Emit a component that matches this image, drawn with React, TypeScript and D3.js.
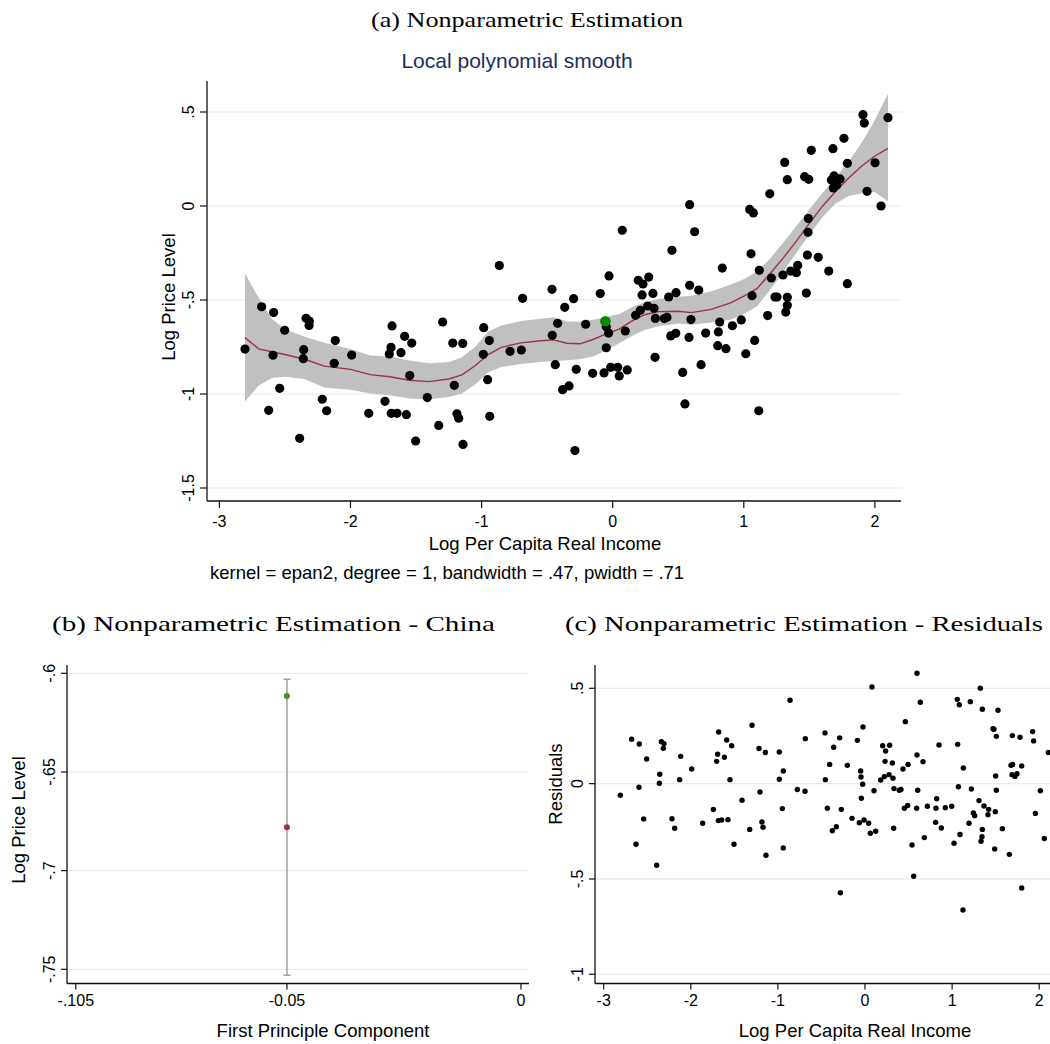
import React from "react";
import * as d3 from "d3";

// ---- Panel (a): log price level vs log per-capita real income ----
const incomeLog = [
  -2.805, -2.678, -2.586, -2.591, -2.502, -2.54, -2.624, -2.388, -2.339, -2.314, -2.316, -2.357, -2.36,
  -2.215, -2.182, -2.116, -2.124, -1.991, -1.861, -1.737, -1.683, -1.691, -1.704, -1.689, -1.645, -1.615,
  -1.587, -1.533, -1.548, -1.574, -1.503, -1.414, -1.327, -1.297, -1.22, -1.144, -1.208, -1.188, -1.175,
  -1.142, -0.984, -0.941, -0.987, -0.954, -0.938, -0.865, -0.783, -0.697, -0.687, -0.463, -0.42, -0.461,
  -0.438, -0.366, -0.298, -0.095, -0.278, -0.382, -0.333, -0.288, -0.206, -0.049, -0.031, -0.049, -0.153,
  -0.066, -0.015, 0.038, 0.05, 0.111, 0.096, 0.175, 0.211, 0.224, 0.267, 0.307, 0.315, 0.325, 0.323,
  0.394, 0.414, 0.427, 0.483, 0.442, 0.481, 0.534, 0.551, 0.587, 0.656, 0.597, 0.582, 0.674, 0.709,
  0.816, 0.806, 0.801, 0.864, 0.913, 0.981, 1.015, 1.083, 1.114, 1.063, 1.182, 1.238, 1.253, 1.332,
  1.332, 1.32, 1.477, 1.79, -0.028, 0.073, 0.195, 0.231, 0.275, 0.452, 0.587, 0.625, 0.836, 1.055,
  1.045, 1.073, 1.198, 1.118, 1.21, 1.299, 1.358, 1.401, 1.411, 1.485, 1.568, 1.648, 1.49, 1.492,
  1.312, 1.332, 1.464, 1.495, 1.515, 1.68, 1.764, 1.79, 1.668, 1.688, 1.734, 1.683, 1.709, 1.909,
  1.919, 2.1, 2.001, 1.94, 2.047,
];
const priceLog = [
  -0.761, -0.536, -0.567, -0.794, -0.661, -0.97, -1.087, -1.236, -0.597, -0.612, -0.635, -0.764, -0.812,
  -1.028, -1.089, -0.716, -0.837, -0.793, -1.103, -1.039, -0.638, -0.752, -0.787, -1.103, -1.103, -0.78,
  -0.693, -0.729, -0.902, -1.11, -1.25, -1.019, -1.167, -0.617, -0.729, -0.731, -0.954, -1.105, -1.129,
  -1.268, -0.647, -0.716, -0.789, -0.924, -1.119, -0.317, -0.773, -0.766, -0.491, -0.443, -0.624, -0.688,
  -0.844, -0.539, -0.493, -0.466, -0.869, -0.977, -0.957, -1.301, -0.629, -0.642, -0.676, -0.754, -0.89,
  -0.888, -0.858, -0.858, -0.904, -0.872, -0.665, -0.581, -0.555, -0.473, -0.532, -0.465, -0.544, -0.598, -0.805,
  -0.599, -0.592, -0.484, -0.461, -0.691, -0.677, -0.885, -1.053, -0.422, -0.447, -0.604, -0.699, -0.844, -0.676,
  -0.617, -0.67, -0.743, -0.759, -0.637, -0.606, -0.786, -0.715, -1.089, -0.477, -0.583, -0.484, -0.484, -0.486,
  -0.528, -0.564, -0.463, -0.413, -0.372, -0.129, -0.395, -0.415, -0.378, -0.236, 0.007, -0.137, -0.33, -0.254,
  -0.018, -0.037, 0.065, -0.342, -0.383, -0.367, -0.346, -0.355, -0.316, -0.261, -0.273, -0.346, -0.14, -0.067,
  0.232, 0.14, 0.156, 0.142, 0.296, 0.305, 0.36, 0.227, 0.138, 0.16, 0.144, 0.096, 0.112, 0.486,
  0.441, 0.47, 0.23, 0.078, 0.0,
];
const chinaIncome = -0.056;
const chinaPrice = -0.613;

// Local polynomial smooth and its 95% band
const smoothGrid = [-2.805, -2.7, -2.6, -2.5, -2.35, -2.2, -2.0, -1.85, -1.7, -1.55, -1.4, -1.25, -1.15, -1.05, -0.95,
  -0.85, -0.7, -0.55, -0.45, -0.35, -0.25, -0.15, -0.05, 0.05, 0.15, 0.25, 0.35, 0.5, 0.6, 0.75, 0.9, 1.0, 1.1,
  1.2, 1.3, 1.4, 1.5, 1.6, 1.7, 1.8, 1.9, 2.0, 2.1];
const smoothFit = [-0.7, -0.76, -0.775, -0.79, -0.815, -0.852, -0.869, -0.897, -0.908, -0.927, -0.934, -0.92, -0.898,
  -0.85, -0.79, -0.752, -0.728, -0.717, -0.712, -0.73, -0.733, -0.71, -0.68, -0.655, -0.61, -0.577, -0.562, -0.56,
  -0.567, -0.55, -0.515, -0.48, -0.44, -0.36, -0.277, -0.188, -0.092, -0.001, 0.077, 0.149, 0.213, 0.266, 0.306];
const smoothLo = [-1.04, -0.955, -0.915, -0.908, -0.92, -0.965, -0.978, -0.998, -1.007, -1.024, -1.028, -1.016, -0.998,
  -0.95, -0.885, -0.857, -0.84, -0.83, -0.826, -0.82, -0.815, -0.8, -0.768, -0.73, -0.69, -0.658, -0.64, -0.625,
  -0.632, -0.62, -0.605, -0.575, -0.534, -0.447, -0.35, -0.25, -0.153, -0.06, 0.013, 0.053, 0.068, 0.075, 0.024];
const smoothHi = [-0.358, -0.49, -0.6, -0.655, -0.695, -0.727, -0.76, -0.795, -0.8, -0.822, -0.837, -0.83, -0.805,
  -0.75, -0.668, -0.636, -0.612, -0.6, -0.592, -0.615, -0.615, -0.605, -0.59, -0.575, -0.537, -0.51, -0.495, -0.483,
  -0.478, -0.455, -0.418, -0.39, -0.35, -0.28, -0.195, -0.108, -0.018, 0.069, 0.152, 0.237, 0.338, 0.458, 0.597];

const incomeTicks = [-3, -2, -1, 0, 1, 2];
const priceTicks = [0.5, 0, -0.5, -1, -1.5];
const priceTickLabels = [".5", "0", "-.5", "-1", "-1.5"];

// ---- Panel (b): China, observed vs fitted ----
const pcTicks = [-0.105, -0.0552, 0];
const pcTickLabels = ["-.105", "-0.05", "0"];
const chinaPC = -0.0552;
const chinaObserved = -0.6115;
const chinaFitted = -0.678;
const chinaBand = [-0.753, -0.603];
const chinaYTicks = [-0.6, -0.65, -0.7, -0.75];
const chinaYTickLabels = ["-.6", "-.65", "-.7", "-.75"];

// ---- Panel (c): residuals ----
const residIncome = [
  -2.809, -2.679, -2.591, -2.595, -2.629, -2.541, -2.507, -2.392, -2.338, -2.308, -2.315, -2.357, -2.361, -2.216,
  -2.185, -2.116, -2.128, -1.99, -1.864, -1.741, -1.68, -1.692, -1.703, -1.684, -1.646, -1.615, -1.588, -1.531,
  -1.55, -1.573, -1.504, -1.412, -1.324, -1.297, -1.217, -1.206, -1.183, -1.171, -1.144, -1.137, -0.984, -0.984,
  -0.938, -0.949, -0.938, -0.861, -0.777, -0.689, -0.685, -0.459, -0.455, -0.432, -0.406, -0.375, -0.36, -0.329,
  -0.291, -0.283, -0.272, -0.203, -0.149, -0.088, -0.065, -0.05, -0.046, -0.042, -0.027, -0.023, -0.011, 0.042,
  0.061, 0.08, 0.103, 0.122, 0.18, 0.203, 0.222, 0.237, 0.23, 0.283, 0.276, 0.314, 0.321, 0.333, 0.329, 0.394,
  0.413, 0.436, 0.452, 0.49, 0.463, 0.494, 0.54, 0.559, 0.593, 0.597, 0.605, 0.597, 0.635, 0.666, 0.681, 0.716,
  0.811, 0.823, 0.815, 0.85, 0.876, 0.922, 0.995, 1.022, 1.06, 1.083, 1.064, 1.072, 1.091, 1.125, 1.129, 1.194,
  1.209, 1.221, 1.244, 1.259, 1.309, 1.324, 1.347, 1.347, 1.343, 1.332, 1.366, 1.412, 1.42, 1.47, 1.481, 1.5,
  1.508, 1.508, 1.496, 1.489, 1.527, 1.577, 1.657, 1.676, 1.692, 1.695, 1.688, 1.722, 1.745, 1.78, 1.799, 1.799,
  1.925, 1.936, 1.956, 2.013, 2.059, 2.105,
];
const residValue = [
  -0.061, 0.233, 0.208, -0.019, -0.318, -0.185, 0.129, -0.428, 0.22, 0.21, 0.185, 0.049, 0.002, -0.184,
  -0.234, 0.143, 0.021, 0.077, -0.208, -0.136, 0.271, 0.154, 0.117, -0.194, -0.191, 0.138, 0.229, 0.199,
  0.021, -0.189, -0.318, -0.087, -0.24, 0.306, 0.184, -0.044, -0.201, -0.229, 0.163, -0.376, 0.166, 0.023,
  0.066, -0.131, -0.337, 0.437, -0.031, -0.04, 0.236, 0.266, 0.021, -0.129, 0.101, -0.247, 0.191, -0.226,
  0.24, -0.572, -0.135, 0.096, -0.182, 0.227, -0.205, 0.066, 0.035, -0.077, -0.003, 0.297, -0.191, -0.208,
  -0.26, 0.507, -0.037, -0.25, 0.019, 0.199, 0.037, 0.171, 0.117, 0.201, 0.047, 0.108, 0.028, -0.026, -0.234, -0.035,
  -0.031, 0.077, -0.129, -0.115, 0.325, 0.101, -0.322, -0.486, -0.129, 0.579, -0.035, 0.15, 0.427, 0.115, -0.283, -0.119,
  -0.203, -0.079, -0.129, 0.203, -0.233, -0.126, -0.119, -0.313, 0.442, 0.414, 0.206, -0.016, -0.267, -0.663, 0.082, -0.208,
  0.43, -0.028, -0.154, -0.168, -0.089, 0.5, 0.39, -0.24, -0.278, -0.302, -0.117, -0.163, -0.135, 0.288, 0.285, 0.04,
  0.248, -0.035, -0.147, -0.343, 0.385, -0.236, -0.371, 0.096, 0.252, 0.1, 0.047, 0.038, 0.052, 0.243, 0.093, -0.547,
  0.273, 0.224, -0.156, -0.037, -0.288, 0.163,
];
const residTicks = [0.5, 0, -0.5, -1];
const residTickLabels = [".5", "0", "-.5", "-1"];

const SANS = "'Liberation Sans', Arial, sans-serif";
const SERIF = "'Liberation Serif', 'Times New Roman', serif";
const GRID = "#e4ecef";
const AXIS = "#111";

// integer tick text with a plain hyphen for negatives
const intLabel = (t: number) => String(t);

export default function App() {
  // panel (a) scales
  const xA = d3.scaleLinear().domain([-3, 2]).range([219.4, 874.9]);
  const yA = d3.scaleLinear().domain([-1.5, 0.5]).range([488, 112]);
  const aLeft = 207, aRight = 901, aTop = 81, aBottom = 501;

  const band = d3
    .area<number>()
    .x((d) => xA(d))
    .y0((_, i) => yA(smoothLo[i]))
    .y1((_, i) => yA(smoothHi[i]));
  const fitLine = d3
    .line<number>()
    .x((d) => xA(d))
    .y((_, i) => yA(smoothFit[i]));

  // panel (b) scales
  const xB = d3.scaleLinear().domain([-0.105, 0]).range([75.8, 521]);
  const yB = d3.scaleLinear().domain([-0.75, -0.6]).range([969.3, 673.3]);
  const bLeft = 67, bRight = 529, bTop = 665, bBottom = 983.5;

  // panel (c) scales
  const xC = d3.scaleLinear().domain([-3, 2]).range([603.7, 1039.2]);
  const yC = d3.scaleLinear().domain([-1, 0.5]).range([974.3, 688.3]);
  const cLeft = 595, cRight = 1050, cTop = 665, cBottom = 983.5;

  return (
    <svg
      width={1050}
      height={1044}
      viewBox="0 0 1050 1044"
      style={{ position: "absolute", left: 0, top: 0, background: "#fff" }}
    >
      <rect width={1050} height={1044} fill="#fff" />

      {/* ---------- Panel (a) ---------- */}
      <text x={527} y={27} textAnchor="middle" fontFamily={SERIF} fontSize={22} textLength={312} lengthAdjust="spacingAndGlyphs">
        (a) Nonparametric Estimation
      </text>
      <text x={517} y={68} textAnchor="middle" fontFamily={SANS} fontSize={21} fill="#1e2d5a">
        Local polynomial smooth
      </text>

      {priceTicks.map((t) => (
        <line key={"ga" + t} x1={aLeft} x2={aRight} y1={yA(t)} y2={yA(t)} stroke={GRID} strokeWidth={1.2} />
      ))}

      <path d={band(smoothGrid) || ""} fill="#c0c0c0" />
      <path d={fitLine(smoothGrid) || ""} fill="none" stroke="#983340" strokeWidth={1.4} />

      {incomeLog.map((x, i) => (
        <circle key={"pa" + i} cx={xA(x)} cy={yA(priceLog[i])} r={4.6} fill="#000" />
      ))}
      <circle cx={xA(chinaIncome)} cy={yA(chinaPrice)} r={5.3} fill="#008a00" />

      <line x1={aLeft} x2={aLeft} y1={aTop} y2={aBottom} stroke={AXIS} strokeWidth={1.3} />
      <line x1={aLeft} x2={aRight} y1={aBottom} y2={aBottom} stroke={AXIS} strokeWidth={1.3} />
      {priceTicks.map((t, i) => (
        <g key={"ya" + t}>
          <line x1={aLeft - 7} x2={aLeft} y1={yA(t)} y2={yA(t)} stroke={AXIS} strokeWidth={1.2} />
          <text
            transform={`translate(${aLeft - 13},${yA(t)}) rotate(-90)`}
            textAnchor="middle"
            fontFamily={SANS}
            fontSize={16}
          >
            {priceTickLabels[i]}
          </text>
        </g>
      ))}
      {incomeTicks.map((t) => (
        <g key={"xa" + t}>
          <line x1={xA(t)} x2={xA(t)} y1={aBottom} y2={aBottom + 7} stroke={AXIS} strokeWidth={1.2} />
          <text x={xA(t)} y={527} textAnchor="middle" fontFamily={SANS} fontSize={16}>
            {intLabel(t)}
          </text>
        </g>
      ))}
      <text x={545} y={550} textAnchor="middle" fontFamily={SANS} fontSize={18.5}>
        Log Per Capita Real Income
      </text>
      <text transform={`translate(175,297) rotate(-90)`} textAnchor="middle" fontFamily={SANS} fontSize={18.5}>
        Log Price Level
      </text>
      <text x={210} y={579} fontFamily={SANS} fontSize={18.5}>
        kernel = epan2, degree = 1, bandwidth = .47, pwidth = .71
      </text>

      {/* ---------- Panel (b) ---------- */}
      <text x={273.5} y={631} textAnchor="middle" fontFamily={SERIF} fontSize={22} textLength={443} lengthAdjust="spacingAndGlyphs">
        (b) Nonparametric Estimation - China
      </text>
      {chinaYTicks.map((t) => (
        <line key={"gb" + t} x1={bLeft} x2={bRight} y1={yB(t)} y2={yB(t)} stroke={GRID} strokeWidth={1.2} />
      ))}
      <line x1={xB(chinaPC)} x2={xB(chinaPC)} y1={yB(chinaBand[0])} y2={yB(chinaBand[1])} stroke="#9a9a9a" strokeWidth={1.4} />
      {chinaBand.map((v) => (
        <line key={"cap" + v} x1={xB(chinaPC) - 3.5} x2={xB(chinaPC) + 3.5} y1={yB(v)} y2={yB(v)} stroke="#9a9a9a" strokeWidth={1.4} />
      ))}
      <circle cx={xB(chinaPC)} cy={yB(chinaObserved)} r={3} fill="#4f8a2b" />
      <circle cx={xB(chinaPC)} cy={yB(chinaFitted)} r={3} fill="#a3313c" />

      <line x1={bLeft} x2={bLeft} y1={bTop} y2={bBottom} stroke={AXIS} strokeWidth={1.3} />
      <line x1={bLeft} x2={bRight} y1={bBottom} y2={bBottom} stroke={AXIS} strokeWidth={1.3} />
      {chinaYTicks.map((t, i) => (
        <g key={"yb" + t}>
          <line x1={bLeft - 6} x2={bLeft} y1={yB(t)} y2={yB(t)} stroke={AXIS} strokeWidth={1.2} />
          <text
            transform={`translate(${bLeft - 12},${yB(t)}) rotate(-90)`}
            textAnchor="middle"
            fontFamily={SANS}
            fontSize={16}
          >
            {chinaYTickLabels[i]}
          </text>
        </g>
      ))}
      {pcTicks.map((t, i) => (
        <g key={"xb" + t}>
          <line x1={xB(t)} x2={xB(t)} y1={bBottom} y2={bBottom + 6} stroke={AXIS} strokeWidth={1.2} />
          <text x={xB(t)} y={1006} textAnchor="middle" fontFamily={SANS} fontSize={16}>
            {pcTickLabels[i]}
          </text>
        </g>
      ))}
      <text x={323} y={1037} textAnchor="middle" fontFamily={SANS} fontSize={18.5}>
        First Principle Component
      </text>
      <text transform={`translate(25,820) rotate(-90)`} textAnchor="middle" fontFamily={SANS} fontSize={18.5}>
        Log Price Level
      </text>

      {/* ---------- Panel (c) ---------- */}
      <text x={804} y={631} textAnchor="middle" fontFamily={SERIF} fontSize={22} textLength={478} lengthAdjust="spacingAndGlyphs">
        (c) Nonparametric Estimation - Residuals
      </text>
      {residTicks.map((t) => (
        <line key={"gc" + t} x1={cLeft} x2={cRight} y1={yC(t)} y2={yC(t)} stroke={GRID} strokeWidth={1.2} />
      ))}
      {residIncome.map((x, i) => (
        <circle key={"pc" + i} cx={xC(x)} cy={yC(residValue[i])} r={2.7} fill="#000" />
      ))}
      <line x1={cLeft} x2={cLeft} y1={cTop} y2={cBottom} stroke={AXIS} strokeWidth={1.3} />
      <line x1={cLeft} x2={cRight} y1={cBottom} y2={cBottom} stroke={AXIS} strokeWidth={1.3} />
      {residTicks.map((t, i) => (
        <g key={"yc" + t}>
          <line x1={cLeft - 6} x2={cLeft} y1={yC(t)} y2={yC(t)} stroke={AXIS} strokeWidth={1.2} />
          <text
            transform={`translate(${cLeft - 12},${yC(t)}) rotate(-90)`}
            textAnchor="middle"
            fontFamily={SANS}
            fontSize={16}
          >
            {residTickLabels[i]}
          </text>
        </g>
      ))}
      {incomeTicks.map((t) => (
        <g key={"xc" + t}>
          <line x1={xC(t)} x2={xC(t)} y1={cBottom} y2={cBottom + 6} stroke={AXIS} strokeWidth={1.2} />
          <text x={xC(t)} y={1006} textAnchor="middle" fontFamily={SANS} fontSize={16}>
            {intLabel(t)}
          </text>
        </g>
      ))}
      <text x={855} y={1037} textAnchor="middle" fontFamily={SANS} fontSize={18.5}>
        Log Per Capita Real Income
      </text>
      <text transform={`translate(562,784) rotate(-90)`} textAnchor="middle" fontFamily={SANS} fontSize={18.5}>
        Residuals
      </text>
    </svg>
  );
}
